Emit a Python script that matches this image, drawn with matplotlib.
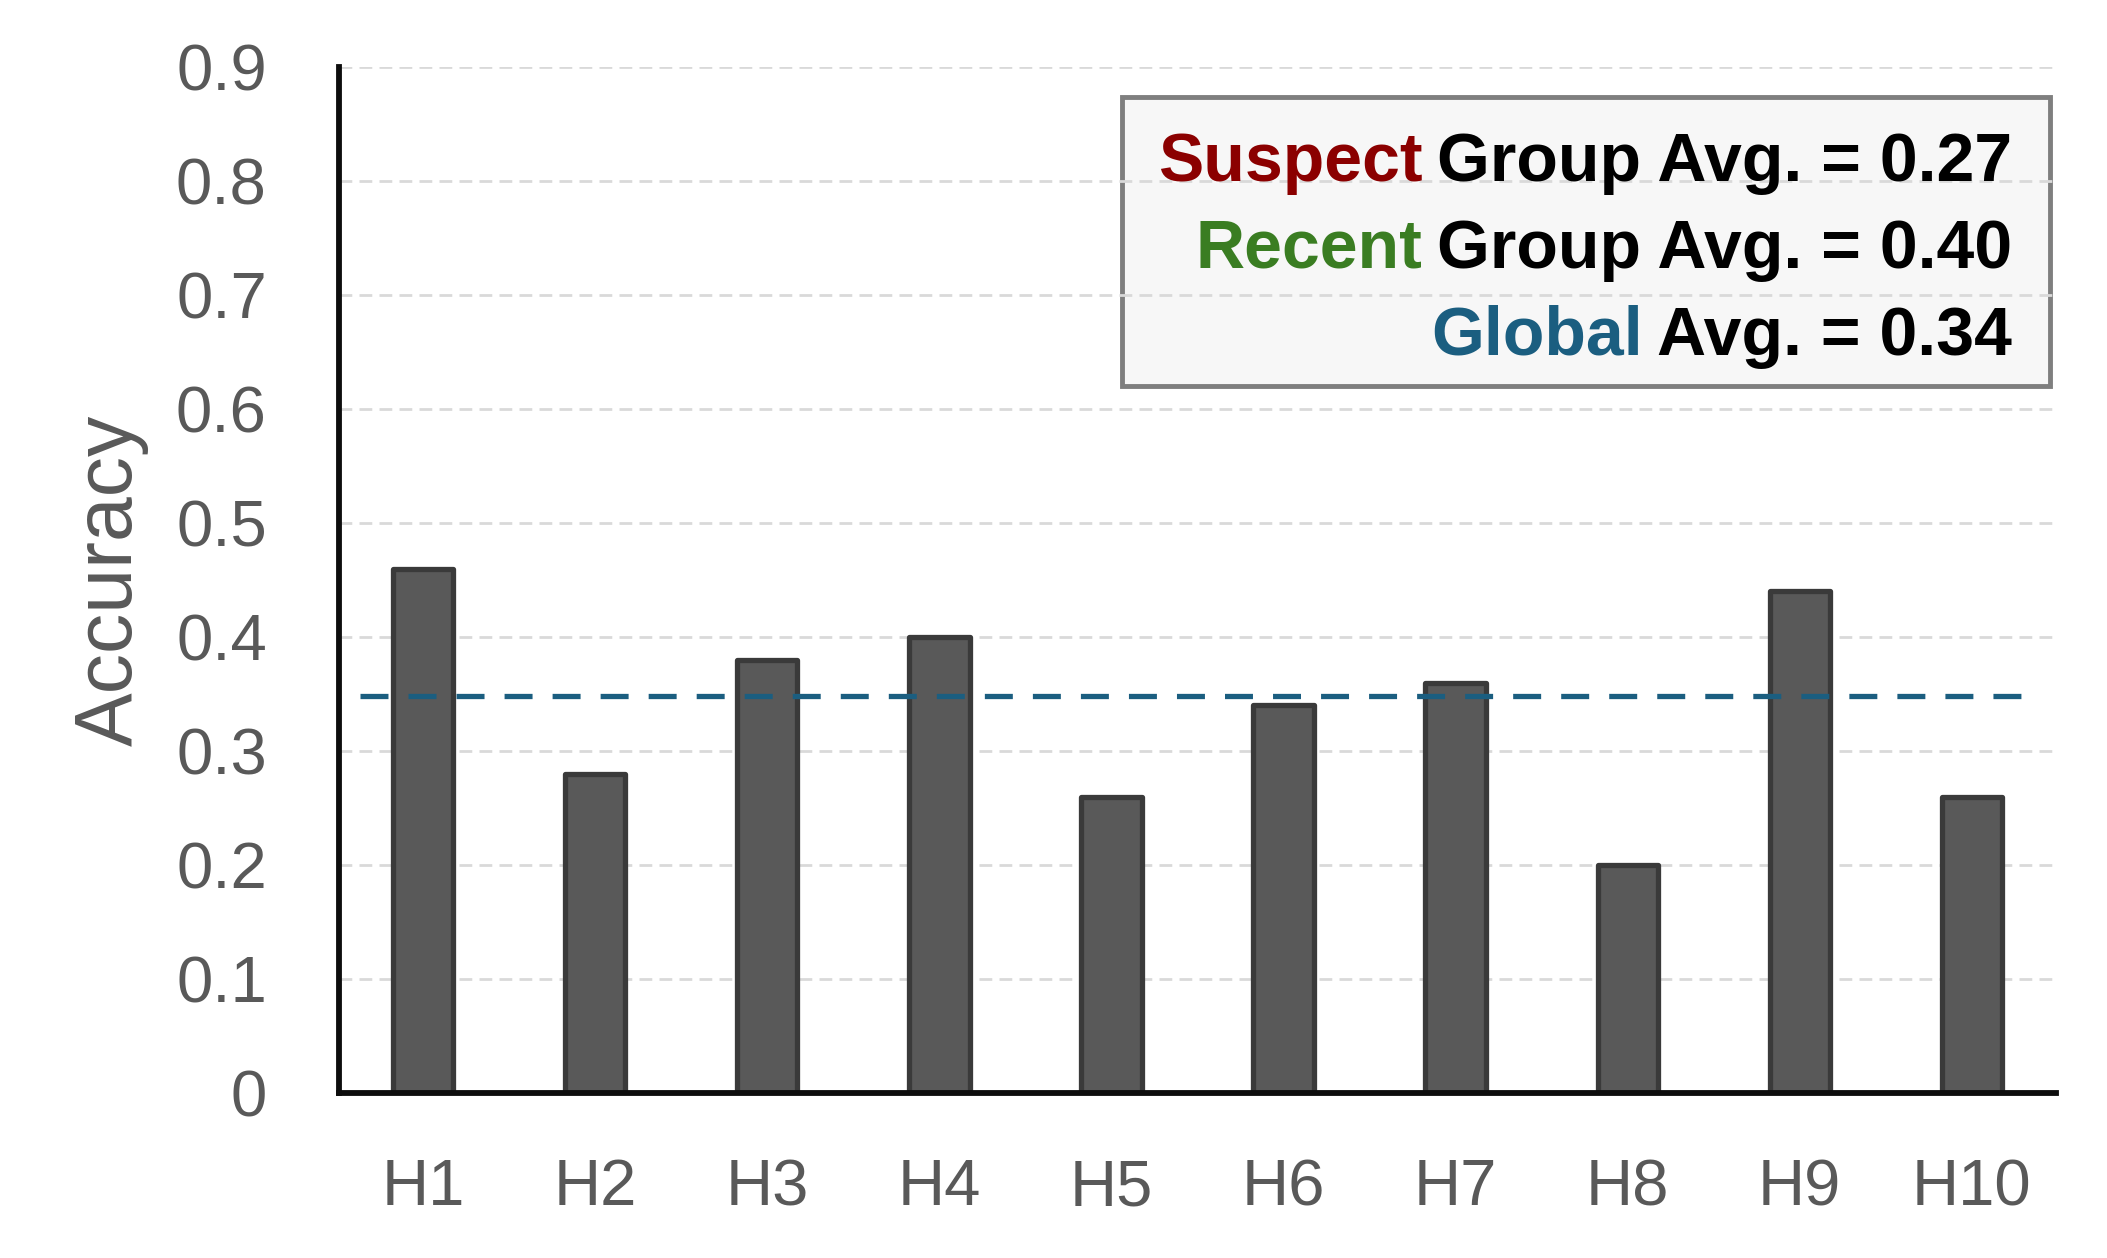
import matplotlib
matplotlib.use("Agg")
import matplotlib.pyplot as plt
from matplotlib.patches import Rectangle
from matplotlib import font_manager

categories = ["H1", "H2", "H3", "H4", "H5", "H6", "H7", "H8", "H9", "H10"]
accuracy = [0.46, 0.28, 0.38, 0.40, 0.26, 0.34, 0.36, 0.20, 0.44, 0.26]
global_line = 0.348
yticks = [0, 0.1, 0.2, 0.3, 0.4, 0.5, 0.6, 0.7, 0.8, 0.9]
ytick_labels = ["0", "0.1", "0.2", "0.3", "0.4", "0.5", "0.6", "0.7", "0.8", "0.9"]
legend_rows = [
    ("Suspect", "Group Avg. = 0.27", "#8B0000"),
    ("Recent", "Group Avg. = 0.40", "#3A7D22"),
    ("Global", "Avg. = 0.34", "#1B5E80"),
]

plt.rcParams['font.family'] = ['Liberation Sans', 'DejaVu Sans']

names = {f.name for f in font_manager.fontManager.ttflist}
if 'Liberation Sans Narrow' in names:
    leg_family = ['Liberation Sans Narrow', 'DejaVu Sans']
    leg_size = 56
else:
    leg_family = ['Liberation Sans', 'DejaVu Sans']
    leg_size = 49

W, H = 2107, 1258
fig = plt.figure(figsize=(W / 100, H / 100), dpi=100)
ax = fig.add_axes([339 / W, 1 - 1093 / H, (2056 - 339) / W, (1093 - 67) / H])

x = list(range(len(categories)))
bars = ax.bar(x, accuracy, width=0.35, color="#595959", edgecolor="#3a3a3a",
              linewidth=3.8, zorder=2)
for b in bars:
    b.set_joinstyle('round')
ax.axhline(global_line, xmin=0.0125, xmax=0.98, color="#1B5E80", lw=3.8,
           dashes=(5.3, 3.8), zorder=3)

ax.set_xlim(-0.49, 9.49)
ax.set_ylim(0, 0.9)
ax.set_yticks(yticks)
ax.set_yticklabels(ytick_labels)
ax.set_xticks(x)
ax.set_xticklabels(categories)
ax.tick_params(axis='y', length=0, pad=52, labelsize=47, labelcolor="#595959")
ax.tick_params(axis='x', length=0, pad=47, labelsize=47, labelcolor="#595959")

ax.set_axisbelow(True)
ax.yaxis.grid(True, color="#d9d9d9", lw=2, dashes=(4.6, 2.6))
ax.xaxis.grid(False)
for s in ["top", "right"]:
    ax.spines[s].set_visible(False)
for s in ["left", "bottom"]:
    ax.spines[s].set_color("#0d0d0d")
    ax.spines[s].set_linewidth(4.2)

ax.text(-0.133, 0.5, "Accuracy", rotation=90, ha="center", va="center",
        transform=ax.transAxes, fontsize=58, color="#595959")

# legend-like box
box = Rectangle((1122 / W, 1 - 386 / H), (2050 - 1122) / W, (386 - 97) / H,
                transform=fig.transFigure, facecolor="#f7f7f7",
                edgecolor="#7f7f7f", linewidth=3.5, zorder=0.2, clip_on=False)
ax.add_patch(box)

fig.canvas.draw()
renderer = fig.canvas.get_renderer()
xr = 2012 / W
row_y = [163, 250, 337]
gap = 14 / W
for (colored, black, col), yy in zip(legend_rows, row_y):
    t = ax.text(xr, 1 - yy / H, black, transform=fig.transFigure, ha="right",
                va="center", fontsize=leg_size, fontweight="bold",
                family=leg_family, color="black", zorder=5)
    bb = t.get_window_extent(renderer=renderer)
    x0 = bb.x0 / W - gap
    ax.text(x0, 1 - yy / H, colored, transform=fig.transFigure, ha="right",
            va="center", fontsize=leg_size, fontweight="bold",
            family=leg_family, color=col, zorder=5)

fig.savefig("out.png", dpi=100)
